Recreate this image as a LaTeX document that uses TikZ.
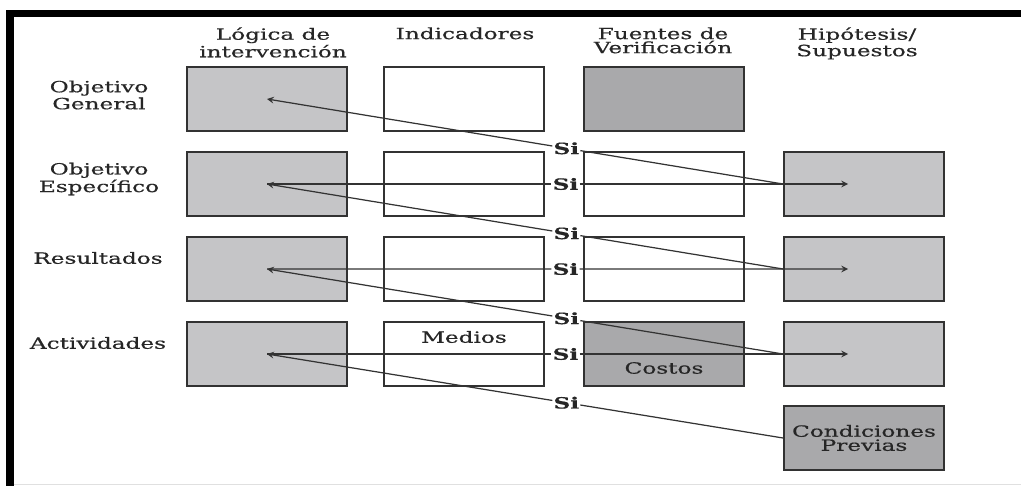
\documentclass[tikz,border=0pt]{standalone}
\usepackage{fontspec}
\setmainfont[FakeStretch=1.5,FakeBold=0.5]{DejaVu Serif}
\usetikzlibrary{calc}
\definecolor{grisclaro}{RGB}{197,197,199}
\definecolor{grisoscuro}{RGB}{169,169,171}
\definecolor{borde}{RGB}{50,50,50}
\begin{document}
\begin{tikzpicture}[x=0.02cm,y=-0.02cm,>=stealth,
caja/.style={rectangle,draw=borde,line width=1.1pt,minimum width=3.2cm,minimum height=1.28cm,inner sep=0pt},
texto/.style={font=\fontsize{8.8}{8}\selectfont,text=black!85,align=center,inner sep=0pt},
si/.style={font=\fontsize{8.8}{8}\selectfont\bfseries,text=black!85,inner sep=0.5pt},
flecha/.style={draw=black!80,line width=0.7pt}]
\useasboundingbox (0,0) rectangle (1021,486);
%\node at (120,3) {Figura};
\fill[black] (6,10) rectangle (1021,17); \fill[black] (6,10) rectangle (14,486);
\draw[black!12,line width=0.5pt] (14,484.5) -- (1021,484.5);
\node[texto,anchor=north] (hlog) at (273,27) {Lógica de\\intervención};
\node[texto,anchor=north] (hind) at (465,27) {Indicadores};
\node[texto,anchor=north] (hfue) at (663,27) {Fuentes de\\Verificación};
\node[texto,anchor=north] (hhip) at (857,27) {Hipótesis/\\Supuestos};
\node[texto] (rog) at (99,95) {Objetivo\\General};
\node[texto] (roe) at (99,179) {Objetivo\\Específico};
\node[texto] (rre) at (98,258) {Resultados};
\node[texto] (rac) at (98,343) {Actividades};
\node[caja,fill=grisclaro] (l1) at (267,99) {}; \node[caja] (i1) at (464,99) {}; \node[caja,fill=grisoscuro] (f1) at (664,99) {};
\node[caja,fill=grisclaro] (l2) at (267,184) {}; \node[caja] (i2) at (464,184) {}; \node[caja] (f2) at (664,184) {}; \node[caja,fill=grisclaro] (h2) at (864,184) {};
\node[caja,fill=grisclaro] (l3) at (267,269) {}; \node[caja] (i3) at (464,269) {}; \node[caja] (f3) at (664,269) {}; \node[caja,fill=grisclaro] (h3) at (864,269) {};
\node[caja,fill=grisclaro] (l4) at (267,354) {}; \node[caja] (i4) at (464,354) {}; \node[caja,fill=grisoscuro] (f4) at (664,354) {}; \node[caja,fill=grisclaro] (h4) at (864,354) {};
\node[caja,texto,fill=grisoscuro] (c5) at (864,438) {Condiciones\\Previas};
\node[texto] (medios) at (464,337) {Medios};
\node[texto] (costos) at (664,368) {Costos};
\node[si] (s1) at ($(l1.center)!0.58!(h2.west)$) {Si};
\node[si] (s2) at ($(l2.center)!0.5!(h2.center)$) {Si};
\node[si] (s23) at ($(l2.center)!0.58!(h3.west)$) {Si};
\node[si] (s3) at ($(l3.center)!0.5!(h3.center)$) {Si};
\node[si] (s34) at ($(l3.center)!0.58!(h4.west)$) {Si};
\node[si] (s4) at ($(l4.center)!0.5!(h4.center)$) {Si};
\node[si] (s45) at ($(l4.center)!0.58!(c5.west)$) {Si};
\draw[flecha,->] (h2.west) -- (s1) -- (l1.center);
\draw[flecha,->,shorten >=0.32cm] (l2.center) -- (s2) -- (h2.center);
\draw[flecha,->] (h3.west) -- (s23) -- (l2.center);
\draw[flecha,->,shorten >=0.32cm] (l3.center) -- (s3) -- (h3.center);
\draw[flecha,->] (h4.west) -- (s34) -- (l3.center);
\draw[flecha,->,shorten >=0.32cm] (l4.center) -- (s4) -- (h4.center);
\draw[flecha,->] (c5.west) -- (s45) -- (l4.center);
\end{tikzpicture}
\end{document}
